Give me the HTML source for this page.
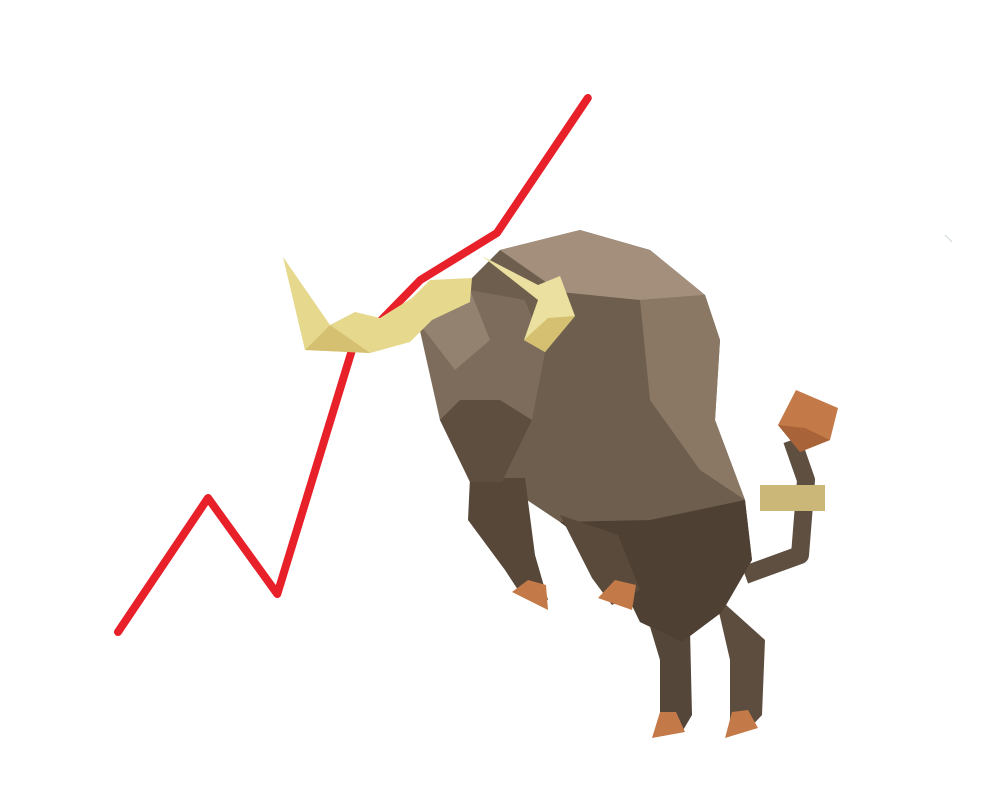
<!DOCTYPE html>
<html><head><meta charset="utf-8"><style>
html,body{margin:0;padding:0;background:#fff;width:1000px;height:807px;overflow:hidden}
svg{display:block}
</style></head><body>
<svg id="chart" width="1000" height="807" viewBox="0 0 1000 807" xmlns="http://www.w3.org/2000/svg">
<g id="line-layer"></g>
<g>
  <!-- tail -->
  <path d="M745,575 L800,555 L806,480 L792,440" fill="none" stroke="#5f4f40" stroke-width="18" stroke-linejoin="round"/>
  <polygon points="778,425 796,390 838,408 830,440 800,452" fill="#c47a48"/>
  <polygon points="778,425 800,452 830,440 805,428" fill="#a86438"/>
  <rect x="760" y="485" width="65" height="26" fill="#cbb878"/>
  <!-- hind legs -->
  <polygon points="645,610 690,630 692,715 682,732 660,732 660,660" fill="#55463a"/>
  <polygon points="715,595 765,640 762,715 748,730 730,730 730,660" fill="#5d4d3f"/>
  <polygon points="652,738 685,732 676,712 660,712" fill="#c47a48"/>
  <polygon points="725,738 758,728 748,710 732,712" fill="#c47a48"/>
  <!-- body -->
  <polygon points="500,250 580,230 650,250 705,295 720,340 715,420 745,500 752,560 722,612 682,642 640,622 610,560 560,522 500,482 470,462 440,420 430,360 450,300" fill="#6e5e4e"/>
  <polygon points="500,250 580,230 650,250 705,295 640,300 560,292" fill="#a38f7b"/>
  <polygon points="640,300 705,295 720,340 715,420 745,500 700,470 650,400" fill="#8a7865"/>
  <polygon points="560,522 650,520 745,500 752,560 722,612 682,642 640,622 610,560" fill="#4f4034"/>
  <!-- front legs -->
  <polygon points="470,478 525,478 535,555 548,600 522,596 505,570 468,520" fill="#574739"/>
  <polygon points="560,515 618,535 640,590 612,605 592,578" fill="#5a4a3c"/>
  <polygon points="512,592 548,610 546,585 528,580" fill="#c47a48"/>
  <polygon points="598,598 632,610 636,585 615,580" fill="#c47a48"/>
  <!-- head -->
  <polygon points="418,322 470,290 525,300 545,352 532,420 502,482 470,482 440,420" fill="#7d6c5b"/>
  <polygon points="440,420 470,482 502,482 532,420 500,400 460,400" fill="#5e4e40"/>
  <polygon points="418,322 470,290 490,340 455,370" fill="#938270"/>
  <!-- horns -->
  <polygon points="283,257 330,325 355,312 380,318 412,298 430,280 472,278 470,302 432,320 410,342 370,353 305,350" fill="#e6d88c"/>
  <polygon points="305,350 330,325 370,353" fill="#d4c070"/>
  <polygon points="482,256 538,300 524,340 545,352 575,316 560,276 538,285" fill="#ece0a0"/>
  <polygon points="524,340 545,352 575,316 548,318" fill="#d4c070"/>
</g>
<line x1="945" y1="235" x2="952" y2="242" stroke="#cfd8d8" stroke-width="1"/>
</svg>
<script>
const xValues = [0, 1.0, 1.77, 2.6, 3.36, 4.21, 5.22];
const yValues = [0, 134, 38, 282, 352, 399, 534];
const xScale = v => 118 + v * 90;
const yScale = v => 632 - v * 1;
const layer = document.getElementById('line-layer');
const ns = 'http://www.w3.org/2000/svg';
const pl = document.createElementNS(ns, 'polyline');
pl.setAttribute('points', xValues.map((x, i) => xScale(x) + ',' + yScale(yValues[i])).join(' '));
pl.setAttribute('fill', 'none');
pl.setAttribute('stroke', '#e8202a');
pl.setAttribute('stroke-width', '8');
pl.setAttribute('stroke-linecap', 'round');
pl.setAttribute('stroke-linejoin', 'round');


layer.appendChild(pl);
</script>
</body></html>
